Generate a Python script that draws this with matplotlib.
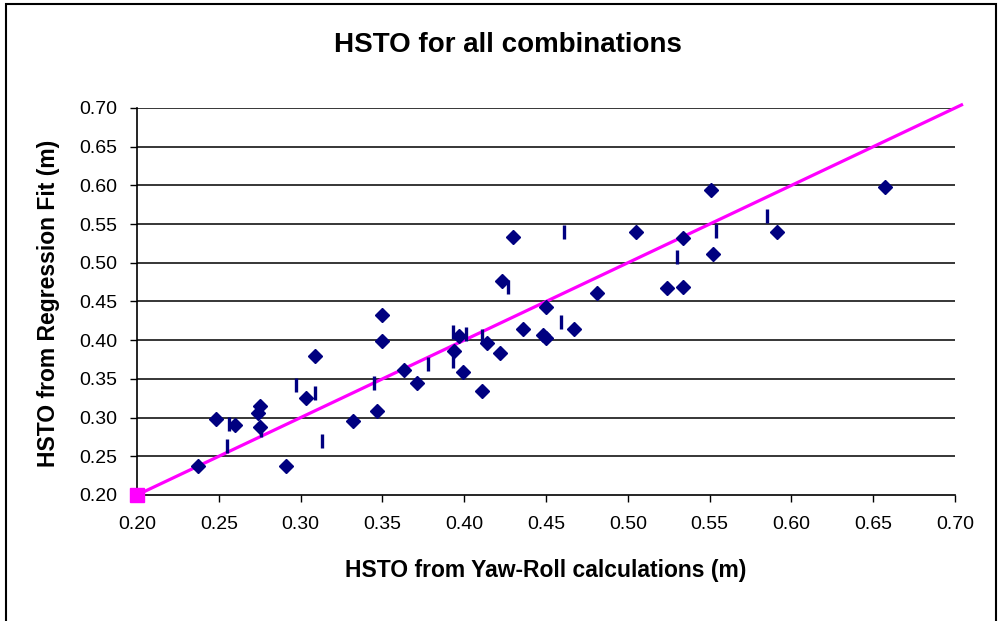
import matplotlib
matplotlib.use("Agg")
import matplotlib.pyplot as plt
from matplotlib.patches import Rectangle

plt.rcParams['font.family'] = ['Liberation Sans', 'DejaVu Sans']

# diamonds
diamond_x = [0.237, 0.248, 0.260, 0.275, 0.274, 0.275, 0.291, 0.303, 0.309, 0.332,
             0.347, 0.350, 0.350, 0.363, 0.371, 0.394, 0.397, 0.399, 0.411, 0.414,
             0.422, 0.423, 0.430, 0.436, 0.448, 0.450, 0.450, 0.467, 0.481, 0.505,
             0.524, 0.534, 0.534, 0.551, 0.552, 0.591, 0.657]
diamond_y = [0.237, 0.298, 0.290, 0.315, 0.306, 0.288, 0.238, 0.325, 0.380, 0.296,
             0.309, 0.432, 0.399, 0.362, 0.345, 0.386, 0.405, 0.359, 0.334, 0.397,
             0.383, 0.477, 0.533, 0.414, 0.407, 0.443, 0.403, 0.415, 0.461, 0.540,
             0.468, 0.469, 0.532, 0.594, 0.511, 0.540, 0.598]

# dash markers
dash_x = [0.256, 0.255, 0.276, 0.297, 0.309, 0.313, 0.345, 0.378, 0.393, 0.393,
          0.401, 0.411, 0.427, 0.459, 0.461, 0.530, 0.554, 0.585]
dash_y = [0.292, 0.263, 0.284, 0.342, 0.332, 0.270, 0.345, 0.369, 0.411, 0.373,
          0.408, 0.406, 0.469, 0.424, 0.540, 0.508, 0.541, 0.561]

# 1:1 line
line_x = [0.20, 0.704]
line_y = [0.20, 0.704]

ticks = [0.20, 0.25, 0.30, 0.35, 0.40, 0.45, 0.50, 0.55, 0.60, 0.65, 0.70]

fig = plt.figure(figsize=(10, 6.21), dpi=100)
ax = fig.add_axes([0.137, 1 - 495 / 621, 0.818, (495 - 108) / 621])

for t in ticks[1:]:
    ax.axhline(t, color='black', lw=1.1, zorder=1)

ax.plot(line_x, line_y, color='#ff00ff', lw=2.3, zorder=2, clip_on=False)
ax.plot(line_x[:1], line_y[:1], color='#ff00ff', marker='s', markersize=10.5,
        linestyle='none', clip_on=False, zorder=5)
ax.plot(dash_x, dash_y, linestyle='none', marker='|', color='#000080',
        markersize=10, markeredgewidth=2.4, zorder=3)
ax.plot(diamond_x, diamond_y, linestyle='none', marker='D', color='#000080',
        markersize=7.5, zorder=4, clip_on=False)

ax.set_xlim(0.20, 0.70)
ax.set_ylim(0.20, 0.70)
ax.set_xticks(ticks)
ax.set_yticks(ticks)
ax.set_xticklabels(['%.2f' % t for t in ticks])
ax.set_yticklabels(['%.2f' % t for t in ticks])
ax.tick_params(labelsize=14, length=5, width=1, pad=9)
ax.tick_params(axis='x', pad=10)
ax.spines['top'].set_visible(False)
ax.spines['right'].set_visible(False)
ax.spines['left'].set_linewidth(1.2)
ax.spines['bottom'].set_linewidth(1.2)

fig.text(0.508, 1 - 45 / 621, 'HSTO for all combinations', fontsize=20,
         fontweight='bold', ha='center', va='center')
fig.text(0.546, 1 - 571 / 621, 'HSTO from Yaw-Roll calculations (m)', fontsize=16.5,
         fontweight='bold', ha='center', va='center')
fig.text(0.049, 1 - 303 / 621, 'HSTO from Regression Fit (m)', fontsize=16.5,
         fontweight='bold', ha='center', va='center', rotation=90)

fig.patches.append(Rectangle((0.006, -0.01), 0.990, 1.004, transform=fig.transFigure,
                             fill=False, edgecolor='black', lw=1.5))

fig.savefig('out.png', dpi=100)
